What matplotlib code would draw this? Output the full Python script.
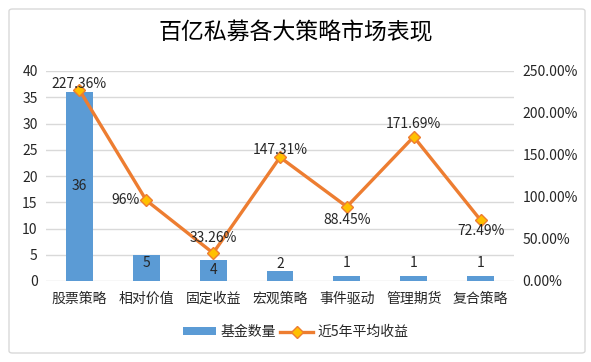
import matplotlib
matplotlib.use("Agg")
import matplotlib.pyplot as plt
from matplotlib.patches import FancyBboxPatch
from matplotlib.ticker import FuncFormatter, MultipleLocator

plt.rcParams['font.family'] = ['Noto Sans CJK SC', 'DejaVu Sans']

categories = ["股票策略", "相对价值", "固定收益", "宏观策略", "事件驱动", "管理期货", "复合策略"]
fund_counts = [36, 5, 4, 2, 1, 1, 1]
avg_returns = [227.36, 96, 33.26, 147.31, 88.45, 171.69, 72.49]
return_labels = ["227.36%", "96%", "33.26%", "147.31%", "88.45%", "171.69%", "72.49%"]
title = "百亿私募各大策略市场表现"
legend_labels = ["基金数量", "近5年平均收益"]

W, H = 591, 362
fig = plt.figure(figsize=(W / 100, H / 100), dpi=100)

border = FancyBboxPatch((9 / W, 9 / H), 576 / W, 344 / H,
                        boxstyle="round,pad=0,rounding_size=0.006",
                        transform=fig.transFigure, fill=False,
                        edgecolor="#D9D9D9", linewidth=1.0)
fig.patches.append(border)

ax = fig.add_axes([46 / W, 1 - 281 / H, 468 / W, 210 / H])
ax2 = ax.twinx()

x = list(range(len(categories)))
bar_color = "#5B9BD5"
line_color = "#ED7D31"

ax.bar(x, fund_counts, width=0.4, color=bar_color, zorder=2, label=legend_labels[0])
ax.set_ylim(0, 40)
ax.set_xlim(-0.5, len(categories) - 0.5)
ax.yaxis.set_major_locator(MultipleLocator(5))
ax.grid(axis="y", color="#D9D9D9", linewidth=1.0, zorder=0)
ax.set_axisbelow(True)
ax.set_xticks(x)
ax.set_xticklabels(categories, fontsize=10, color="#262626")
ax.tick_params(axis="both", length=0, labelsize=10, colors="#262626")
ax.tick_params(axis="x", pad=8)
ax.tick_params(axis="y", pad=6)
for s in ax.spines.values():
    s.set_visible(False)

# bar value labels (Excel-like placement)
bar_label_y = [18, 3.4, 2.1, 3.2, 3.4, 3.4, 3.4]
for xi, v, ly in zip(x, fund_counts, bar_label_y):
    ax.text(xi, ly, str(v), ha="center", va="center", fontsize=10, color="#262626", zorder=3)

ax2.plot(x, avg_returns, color=line_color, linewidth=2.4, marker="D", markersize=6,
         markerfacecolor="#FFC000", markeredgecolor=line_color, markeredgewidth=1.0,
         zorder=4, label=legend_labels[1])
ax2.set_ylim(0, 250)
ax2.yaxis.set_major_locator(MultipleLocator(50))
ax2.yaxis.set_major_formatter(FuncFormatter(lambda v, p: f"{v:.2f}%"))
ax2.tick_params(axis="y", length=0, labelsize=10, colors="#262626", pad=6)
for s in ax2.spines.values():
    s.set_visible(False)

# line value labels: offsets in points
offsets = [(0, 4.5), (-15, 0), (0, 11), (0, 5.5), (0, -9.5), (0, 9.5), (0, -7.5)]
for xi, v, lab, (dx, dy) in zip(x, avg_returns, return_labels, offsets):
    ax2.annotate(lab, (xi, v), xytext=(dx, dy), textcoords="offset points",
                 ha="center", va="center", fontsize=10, color="#262626", zorder=5)

fig.text(0.5, 1 - 33 / H, title, ha="center", va="center", fontsize=16.5, color="#000000")

h1, l1 = ax.get_legend_handles_labels()
h2, l2 = ax2.get_legend_handles_labels()
fig.legend(h1 + h2, l1 + l2, loc="center", bbox_to_anchor=(0.5, 1 - 332 / H),
           ncol=2, frameon=False, fontsize=10, handlelength=2.4, handleheight=0.5,
           columnspacing=0.3, handletextpad=0.3, labelcolor="#262626")

fig.savefig("out.png", dpi=100)
